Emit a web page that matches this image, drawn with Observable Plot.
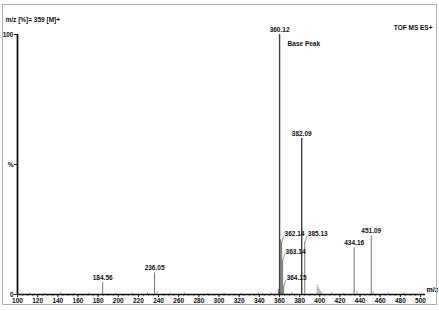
<!DOCTYPE html>
<html>
<head>
<meta charset="utf-8">
<script src="https://cdn.jsdelivr.net/npm/d3@7"></script>
<script src="https://cdn.jsdelivr.net/npm/@observablehq/plot@0.6"></script>
<style>
  body { margin: 0; background: #fff; }
  #wrap { position: relative; width: 439px; height: 311px; }
  #border { position: absolute; left: 2px; top: 4px; width: 433px; height: 299px; border: 1px solid #b0b0b0; pointer-events: none; }
  svg { display: block; }
</style>
</head>
<body>
<div id="wrap"><div id="border"></div></div>
<script>
// Labelled / main peaks (m/z, relative intensity %)
const peakMz  = [184.56, 236.05, 358.9, 360.12, 361.13, 362.14, 363.14, 364.15, 382.09, 385.13, 434.16, 451.09];
const peakInt = [4.6,    8.3,    2,     100,    21,     20,     13,     3,      60,     20,     18,     22.5];
// labels drawn above the peak top
const topLabels = ["184.56", "236.05", "360.12", "382.09", "434.16", "451.09"];
// labels drawn to the upper right with a leader
const sideLabels = ["362.14", "363.14", "364.15", "385.13"];
// small noise / minor peaks
const noiseMz  = [112, 127, 143, 156, 171, 197, 214, 229, 238.5, 251, 266, 289, 305, 322, 339, 352, 372, 397.5, 398.5, 399.5, 400.5, 402, 412, 424, 437, 453, 468, 484];
const noiseInt = [0.6, 0.5, 0.7, 0.5, 0.6, 0.5, 0.7, 0.6, 1.2,   0.5, 0.6, 0.5, 0.6, 0.5, 0.7, 0.6, 0.8, 3.8,   2.6,   2.0,   1.3,   0.9, 0.6, 0.5, 1.4, 1.0, 0.5, 0.6];
const xMajor = d3.range(100, 501, 20);
const xMinor = d3.range(100, 501, 5);
const xEnd = 500;
const title = "m/z [%]= 359 [M]+";
const instrument = "TOF MS ES+";
const basePeakNote = "Base Peak";
const xUnit = "m/z";

const peaks = peakMz.map((mz, i) => ({mz, int: peakInt[i], label: mz.toFixed(2)}));
const noise = noiseMz.map((mz, i) => ({mz, int: noiseInt[i]}));
const topData = peaks.filter(d => topLabels.includes(d.label));
const sideData = peaks.filter(d => sideLabels.includes(d.label));
const base = peaks.filter(d => d.int === 100);

const font = "'Liberation Sans', Arial, sans-serif";

const chart = Plot.plot({
  width: 439,
  height: 311,
  marginTop: 34,
  marginBottom: 17,
  marginLeft: 17,
  marginRight: 19,
  x: {domain: [100, 500], label: null},
  y: {domain: [0, 100], label: null},
  style: {fontFamily: font, fontSize: "6.5px", fontWeight: "bold", background: "transparent", overflow: "visible", color: "#111"},
  marks: [
    Plot.ruleX(noise, {x: "mz", y1: 0, y2: "int", stroke: "#999", strokeWidth: 0.8}),
    Plot.ruleX(peaks, {x: "mz", y1: 0, y2: "int", stroke: d => d.int >= 50 ? "#444" : "#777", strokeWidth: d => d.int >= 50 ? 1.4 : 1}),
    Plot.text(topData, {x: "mz", y: "int", text: "label", dy: -5, textAnchor: "middle", fill: "#111"}),
    Plot.link(sideData, {x1: "mz", y1: "int", x2: d => d.mz + 2, y2: d => d.int + 2.5, stroke: "#666", strokeWidth: 0.7}),
    Plot.text(sideData, {x: "mz", y: "int", text: "label", dx: 3, dy: -9, textAnchor: "start", fill: "#111"}),
    Plot.text(base, {x: "mz", y: "int", text: () => basePeakNote, dx: 8, dy: 9, textAnchor: "start", fill: "#111"}),
    Plot.axisX({ticks: xMinor, tickSize: 2, tickFormat: () => "", stroke: "#333", strokeWidth: 0.6, label: null}),
    Plot.axisX({ticks: xMajor, tickSize: 3, tickPadding: 1, tickFormat: d => String(d), stroke: "#222", fill: "#111", label: null}),
    Plot.axisY({ticks: [0, 50, 100], tickSize: 3, tickPadding: 1, tickFormat: d => d === 50 ? "%" : String(d), label: null, stroke: "#222", fill: "#111"}),
    Plot.ruleY([0], {x1: 100, x2: 505, stroke: "#111", strokeWidth: 1.4}),
    Plot.ruleX([100], {y1: 0, y2: 100, stroke: "#111", strokeWidth: 1.8}),
    Plot.text([xUnit], {x: () => xEnd, y: () => 0, text: d => d, dx: 6, dy: -5, textAnchor: "start", fill: "#000", fontSize: 7, fontWeight: "bold"}),
    Plot.text([title], {frameAnchor: "top-left", text: d => d, dx: -12, dy: -17, textAnchor: "start", fill: "#111"}),
    Plot.text([instrument], {frameAnchor: "top-right", text: d => d, dx: 12, dy: -9, textAnchor: "end", fill: "#111"})
  ]
});
document.getElementById("wrap").prepend(chart);
</script>
</body>
</html>
